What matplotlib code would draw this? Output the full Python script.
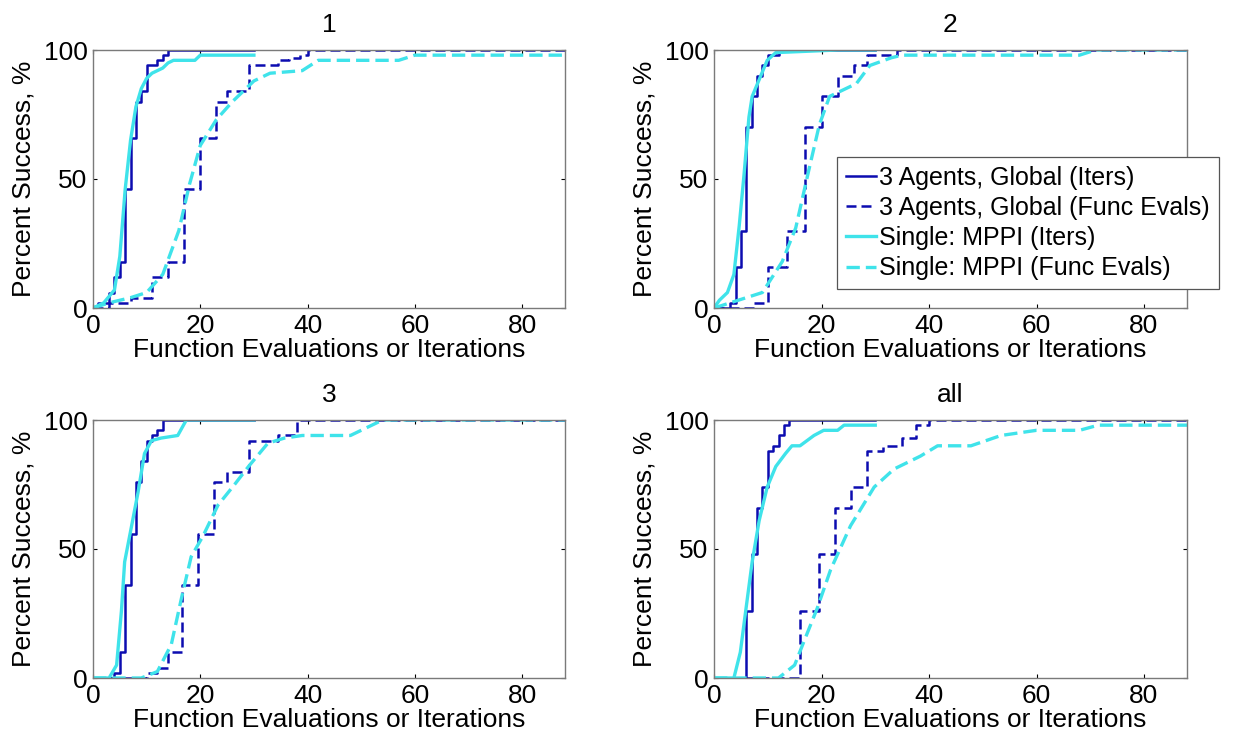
#!/usr/bin/python3
import matplotlib
matplotlib.use("Agg")
import matplotlib.pyplot as plt

plt.rcParams['font.family'] = ['Liberation Sans', 'DejaVu Sans']

# Panel titles and legend labels
titles = ["1", "2", "3", "all"]
labels = ["3 Agents, Global (Iters)", "3 Agents, Global (Func Evals)",
          "Single: MPPI (Iters)", "Single: MPPI (Func Evals)"]

# ---- panel 1 ----
p1_agent_it_x = [0, 1, 3, 4, 5, 6, 7, 8, 9, 10, 12, 13, 14, 30]
p1_agent_it_y = [0, 2, 6, 12, 18, 46, 66, 80, 84, 94, 96, 98, 100, 100]
p1_agent_fe_x = [0, 3, 7, 11, 14, 17, 20, 23, 25, 29, 34.5, 36.5, 38.5, 40, 88]
p1_agent_fe_y = [0, 2, 4, 12, 18, 46, 66, 80, 84, 94, 96, 97, 98, 100, 100]
p1_mppi_it_x = [0, 2, 4, 5, 6, 7, 8, 9, 10, 11, 12, 13, 14, 15, 19, 20, 30]
p1_mppi_it_y = [0, 2, 7, 20, 46, 65, 78, 85, 89, 91, 92, 93, 95, 96, 96, 98, 98]
p1_mppi_fe_x = [0, 3, 7, 10, 13, 16, 18, 20, 23, 26, 30, 33, 39, 42, 57, 60, 88]
p1_mppi_fe_y = [0, 2, 4, 6, 13, 30, 48, 63, 73, 80, 88, 91, 92, 96, 96, 98, 98]

# ---- panel 2 ----
p2_agent_it_x = [0, 3, 4, 5, 6, 7, 8, 9, 10, 12, 30]
p2_agent_it_y = [0, 2, 16, 30, 70, 82, 90, 94, 98, 100, 100]
p2_agent_fe_x = [0, 7.5, 10, 13.5, 17, 20, 23, 26, 28.5, 34, 88]
p2_agent_fe_y = [0, 2, 16, 30, 70, 82, 90, 94, 98, 100, 100]
p2_mppi_it_x = [0, 1, 2.5, 3.7, 4.7, 5.6, 6.5, 7.1, 8.7, 9.9, 11.5, 23, 30]
p2_mppi_it_y = [0, 3, 6, 13, 32, 52, 74, 82, 90, 96, 99, 100, 100]
p2_mppi_fe_x = [0, 3, 9, 12.7, 15.2, 17.7, 19.6, 21.5, 26.5, 29, 33, 35, 68, 71, 88]
p2_mppi_fe_y = [0, 2, 6, 18, 31, 54, 71, 82, 87, 94, 97, 98, 98, 100, 100]

# ---- panel 3 ----
p3_agent_it_x = [0, 4, 5, 6, 7, 8, 9, 10, 11, 12, 13, 30]
p3_agent_it_y = [0, 2, 10, 36, 56, 76, 84, 92, 94, 96, 100, 100]
p3_agent_fe_x = [0, 10, 12, 14, 16.5, 19.5, 22.5, 25, 29, 34.5, 38, 88]
p3_agent_fe_y = [0, 2, 4, 10, 36, 56, 76, 80, 92, 94, 100, 100]
p3_mppi_it_x = [0, 3, 4.4, 5.3, 5.9, 7.2, 8.4, 9.6, 10.9, 12.7, 15.8, 17.4, 30]
p3_mppi_it_y = [0, 0, 5, 26, 45, 59, 72, 87, 92, 93, 94, 100, 100]
p3_mppi_fe_x = [0, 9, 12, 14.6, 16.5, 18.3, 20.5, 23.3, 26.4, 29, 32.6, 35.7, 39, 48, 54, 88]
p3_mppi_fe_y = [0, 0, 2.5, 13, 31, 47, 55, 67, 75, 82, 91, 93, 94, 94, 100, 100]

# ---- panel all ----
p4_agent_it_x = [0, 6, 7, 8, 9, 10, 11, 12, 13, 14, 30]
p4_agent_it_y = [0, 26, 48, 66, 74, 88, 90, 94, 98, 100, 100]
p4_agent_fe_x = [0, 16, 19.5, 22.5, 25.5, 28.5, 31.5, 35, 37.5, 40, 88]
p4_agent_fe_y = [0, 26, 48, 66, 74, 88, 90, 93, 98, 100, 100]
p4_mppi_it_x = [0, 3.7, 4.9, 5.9, 7.1, 8.4, 9.9, 11.5, 13.3, 14.5, 16, 18.6, 20.4, 23, 24.2, 30]
p4_mppi_it_y = [0, 0, 10, 26, 45, 61, 74, 82, 87, 90, 90, 94, 96, 96, 98, 98]
p4_mppi_fe_x = [0, 12, 15, 16.7, 19.2, 21.7, 25.4, 29.8, 33.5, 38.4, 41.6, 47.8, 53.4, 60, 68, 71.5, 88]
p4_mppi_fe_y = [0, 0, 5, 14, 27, 42, 59, 74, 81, 86, 90, 90, 94, 96, 96, 98, 98]

panels = [
    (p1_agent_it_x, p1_agent_it_y, p1_agent_fe_x, p1_agent_fe_y, p1_mppi_it_x, p1_mppi_it_y, p1_mppi_fe_x, p1_mppi_fe_y),
    (p2_agent_it_x, p2_agent_it_y, p2_agent_fe_x, p2_agent_fe_y, p2_mppi_it_x, p2_mppi_it_y, p2_mppi_fe_x, p2_mppi_fe_y),
    (p3_agent_it_x, p3_agent_it_y, p3_agent_fe_x, p3_agent_fe_y, p3_mppi_it_x, p3_mppi_it_y, p3_mppi_fe_x, p3_mppi_fe_y),
    (p4_agent_it_x, p4_agent_it_y, p4_agent_fe_x, p4_agent_fe_y, p4_mppi_it_x, p4_mppi_it_y, p4_mppi_fe_x, p4_mppi_fe_y),
]

blue = '#0c0cb0'
cyan = '#3fe3ea'
fs = 19

W, H = 1242, 738
fig = plt.figure(figsize=[W / 100, H / 100], dpi=100)
# axes boxes in pixels: left, top, right, bottom
boxes = [(93, 50, 565, 308), (714, 50, 1187, 308), (93, 420, 565, 678), (714, 420, 1187, 678)]

for i, (box, data) in enumerate(zip(boxes, panels)):
    l, t, r, b = box
    ax = fig.add_axes([l / W, 1 - b / H, (r - l) / W, (b - t) / H])
    ax_x, ax_y, af_x, af_y, mi_x, mi_y, mf_x, mf_y = data
    ax.plot(ax_x, ax_y, color=blue, lw=1.8, drawstyle='steps-post', label=labels[0])
    ax.plot(af_x, af_y, color=blue, lw=1.8, ls=(0, (4, 2)), drawstyle='steps-post', label=labels[1])
    ax.plot(mi_x, mi_y, color=cyan, lw=2.4, label=labels[2])
    ax.plot(mf_x, mf_y, color=cyan, lw=2.4, ls=(0, (4, 1.8)), label=labels[3])

    ax.set_xlim(0, 88)
    ax.set_ylim(0, 100)
    ax.set_xticks([0, 20, 40, 60, 80])
    ax.set_yticks([0, 50, 100])
    ax.tick_params(direction='in', length=3, width=0.8, labelsize=fs, pad=4,
                   top=True, right=True, colors='k')
    for s in ax.spines.values():
        s.set_color('#7a7a7a')
        s.set_linewidth(1.0)
    ax.set_title(titles[i], fontsize=fs, pad=13)
    ax.set_xlabel("Function Evaluations or Iterations", fontsize=fs, labelpad=0)
    ax.set_ylabel("Percent Success, %", fontsize=fs, labelpad=6)

    if i == 1:
        leg = ax.legend(loc='upper left', bbox_to_anchor=(0.26, 0.586), fontsize=18,
                        borderaxespad=0, borderpad=0.35, labelspacing=0.25,
                        handlelength=1.2, handletextpad=0.15, fancybox=False,
                        framealpha=1, edgecolor='#555555')
        leg.get_frame().set_linewidth(0.9)

plt.savefig("out.png", dpi=100)
